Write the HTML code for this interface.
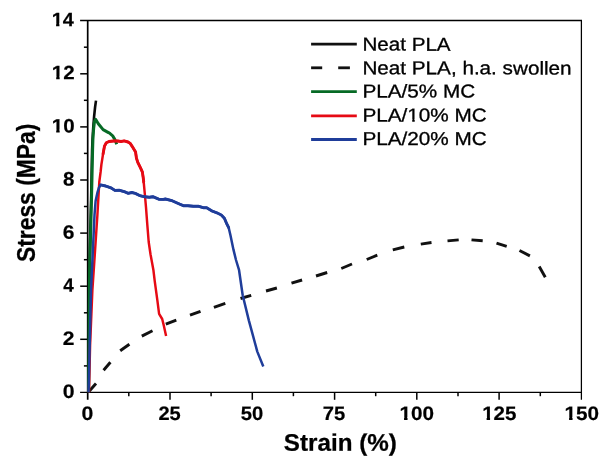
<!DOCTYPE html>
<html><head><meta charset="utf-8"><title>Stress-strain</title>
<style>html,body{margin:0;padding:0;background:#fff;}body{width:600px;height:461px;overflow:hidden;}svg{display:block;will-change:transform;position:absolute;left:0;top:0;font-family:"Liberation Sans",sans-serif;}.tk{font-weight:bold;fill:#000;stroke:#000;stroke-width:0.2px;}.ax{font-weight:bold;fill:#000;stroke:#000;stroke-width:0.25px;}.lg{fill:#000;stroke:#000;stroke-width:0.3px;}</style></head><body>
<svg width="600" height="461" viewBox="0 0 600 461">
<rect x="0" y="0" width="600" height="461" fill="#ffffff"/>
<g stroke="#000000" fill="none">
<line x1="87.7" y1="19.9" x2="87.7" y2="399.8" stroke-width="1.7"/>
<line x1="80.1" y1="392.4" x2="582.0" y2="392.4" stroke-width="1.4"/>
<line x1="80.1" y1="20.6" x2="582.0" y2="20.6" stroke-width="1.5"/>
<line x1="581.4" y1="20.6" x2="581.4" y2="399.8" stroke-width="1.25"/>
<line x1="83.9" y1="365.9" x2="87.7" y2="365.9" stroke-width="1.5"/>
<line x1="80.2" y1="339.3" x2="87.7" y2="339.3" stroke-width="1.5"/>
<line x1="83.9" y1="312.8" x2="87.7" y2="312.8" stroke-width="1.5"/>
<line x1="80.2" y1="286.2" x2="87.7" y2="286.2" stroke-width="1.5"/>
<line x1="83.9" y1="259.7" x2="87.7" y2="259.7" stroke-width="1.5"/>
<line x1="80.2" y1="233.1" x2="87.7" y2="233.1" stroke-width="1.5"/>
<line x1="83.9" y1="206.5" x2="87.7" y2="206.5" stroke-width="1.5"/>
<line x1="80.2" y1="180.0" x2="87.7" y2="180.0" stroke-width="1.5"/>
<line x1="83.9" y1="153.4" x2="87.7" y2="153.4" stroke-width="1.5"/>
<line x1="80.2" y1="126.9" x2="87.7" y2="126.9" stroke-width="1.5"/>
<line x1="83.9" y1="100.3" x2="87.7" y2="100.3" stroke-width="1.5"/>
<line x1="80.2" y1="73.8" x2="87.7" y2="73.8" stroke-width="1.5"/>
<line x1="83.9" y1="47.2" x2="87.7" y2="47.2" stroke-width="1.5"/>
<line x1="128.8" y1="392.4" x2="128.8" y2="396.2" stroke-width="1.5"/>
<line x1="170.0" y1="392.4" x2="170.0" y2="399.8" stroke-width="1.5"/>
<line x1="211.1" y1="392.4" x2="211.1" y2="396.2" stroke-width="1.5"/>
<line x1="252.3" y1="392.4" x2="252.3" y2="399.8" stroke-width="1.5"/>
<line x1="293.4" y1="392.4" x2="293.4" y2="396.2" stroke-width="1.5"/>
<line x1="334.6" y1="392.4" x2="334.6" y2="399.8" stroke-width="1.5"/>
<line x1="375.7" y1="392.4" x2="375.7" y2="396.2" stroke-width="1.5"/>
<line x1="416.8" y1="392.4" x2="416.8" y2="399.8" stroke-width="1.5"/>
<line x1="458.0" y1="392.4" x2="458.0" y2="396.2" stroke-width="1.5"/>
<line x1="499.1" y1="392.4" x2="499.1" y2="399.8" stroke-width="1.5"/>
<line x1="540.3" y1="392.4" x2="540.3" y2="396.2" stroke-width="1.5"/>
</g>
<path d="M88.5 392.3 L88.8 345.0 L89.2 290.0 L89.4 270.0 L91.1 200.0 L92.1 150.0 L92.5 140.0 L93.2 128.0 L94.1 116.5 L95.1 107.0 L96.0 100.6" fill="none" stroke="#0a0a0a" stroke-width="2.6" stroke-linejoin="round" stroke-linecap="butt"/>
<line x1="88.5" y1="392.0" x2="96.0" y2="383.5" stroke="#111111" stroke-width="2.9"/>
<line x1="103.6" y1="370.3" x2="110.4" y2="362.2" stroke="#111111" stroke-width="2.9"/>
<line x1="120.2" y1="350.8" x2="129.4" y2="344.3" stroke="#111111" stroke-width="2.9"/>
<line x1="141.8" y1="336.1" x2="152.5" y2="330.7" stroke="#111111" stroke-width="2.9"/>
<line x1="165.8" y1="324.2" x2="176.3" y2="320.2" stroke="#111111" stroke-width="2.9"/>
<line x1="190.0" y1="315.2" x2="200.5" y2="311.3" stroke="#111111" stroke-width="2.9"/>
<line x1="213.9" y1="307.3" x2="225.3" y2="303.3" stroke="#111111" stroke-width="2.9"/>
<line x1="240.5" y1="298.5" x2="251.2" y2="295.3" stroke="#111111" stroke-width="2.9"/>
<line x1="266.0" y1="291.0" x2="276.9" y2="288.0" stroke="#111111" stroke-width="2.9"/>
<line x1="291.5" y1="283.2" x2="302.1" y2="280.0" stroke="#111111" stroke-width="2.9"/>
<line x1="316.0" y1="276.0" x2="327.2" y2="272.5" stroke="#111111" stroke-width="2.9"/>
<line x1="341.3" y1="268.5" x2="352.0" y2="264.0" stroke="#111111" stroke-width="2.9"/>
<line x1="366.7" y1="259.5" x2="377.3" y2="255.2" stroke="#111111" stroke-width="2.9"/>
<line x1="392.8" y1="249.9" x2="404.3" y2="247.0" stroke="#111111" stroke-width="2.9"/>
<line x1="420.8" y1="244.1" x2="431.5" y2="242.5" stroke="#111111" stroke-width="2.9"/>
<line x1="447.5" y1="240.9" x2="458.7" y2="239.9" stroke="#111111" stroke-width="2.9"/>
<line x1="471.5" y1="239.9" x2="482.7" y2="240.7" stroke="#111111" stroke-width="2.9"/>
<line x1="496.5" y1="243.1" x2="506.7" y2="246.3" stroke="#111111" stroke-width="2.9"/>
<line x1="519.5" y1="250.5" x2="529.9" y2="255.9" stroke="#111111" stroke-width="2.9"/>
<line x1="539.2" y1="266.5" x2="545.3" y2="277.2" stroke="#111111" stroke-width="2.9"/>
<path d="M88.6 392.3 L89.0 345.0 L89.4 290.0 L89.6 270.0 L89.9 260.0 L91.5 200.0 L92.6 150.0 L92.9 140.0 L93.7 128.0 L94.5 121.5 L95.6 119.3 L98.3 123.7 L103.1 129.6 L108.5 132.6 L110.1 133.6 L112.7 135.8 L113.6 137.4 L114.9 139.5 L116.7 144.3" fill="none" stroke="#066a25" stroke-width="3.0" stroke-linejoin="round" stroke-linecap="butt"/>
<path d="M89.0 392.3 L90.1 345.0 L92.4 290.0 L94.3 262.0 L97.4 215.0 L99.3 182.0 L100.6 172.0 L101.4 164.5 L103.1 153.7 L104.5 146.1 L106.3 142.8 L109.0 141.5 L113.4 141.0 L117.7 141.0 L121.0 141.5 L124.2 140.9 L128.0 142.0 L130.2 143.4 L132.3 146.6 L135.6 152.1 L136.4 158.0 L137.8 162.4 L140.5 167.8 L142.4 172.1 L143.2 177.6 L143.7 182.0 L145.0 196.0 L146.0 207.3 L147.3 224.7 L148.7 242.0 L150.5 254.2 L153.4 270.0 L154.7 280.8 L157.3 299.9 L159.1 313.8 L162.2 319.0 L163.9 325.9 L166.1 336.0" fill="none" stroke="#e60a14" stroke-width="2.45" stroke-linejoin="round" stroke-linecap="butt"/>
<path d="M103.1 153.7 L104.5 146.1 L106.3 142.8 L109.0 141.5 L113.4 141.0 L117.7 141.0 L121.0 141.5 L124.2 140.9 L128.0 142.0 L130.2 143.4 L132.3 146.6 L135.6 152.1 L136.4 158.0 L137.8 162.4 L140.5 167.8 L142.4 172.1 L143.2 177.6 L143.7 182.0" fill="none" stroke="#e60a14" stroke-width="2.9" stroke-linejoin="round" stroke-linecap="round"/>
<path d="M88.6 392.3 L89.7 345.0 L91.0 290.0 L92.2 265.0 L94.5 215.0 L95.6 201.0 L97.5 192.3 L98.8 188.0 L100.6 184.9 L105.6 186.0 L110.8 187.8 L114.9 190.4 L119.0 190.2 L124.3 191.7 L128.3 193.3 L131.8 192.5 L135.3 193.4 L140.0 195.7 L144.7 196.8 L149.3 197.2 L152.8 196.7 L158.7 199.2 L163.3 199.4 L165.3 199.0 L172.0 200.7 L178.7 203.7 L183.3 205.7 L188.0 205.7 L193.3 206.3 L198.7 206.3 L203.3 207.7 L206.7 207.7 L212.0 211.0 L217.3 213.0 L221.3 215.0 L224.4 218.3 L226.7 223.7 L228.7 227.7 L230.4 235.0 L233.4 249.4 L236.0 260.0 L239.0 269.8 L242.7 295.2 L248.9 320.6 L257.3 351.6 L263.3 366.5" fill="none" stroke="#1f3d9a" stroke-width="2.5" stroke-linejoin="round" stroke-linecap="butt"/>
<path d="M100.6 184.9 L105.6 186.0 L110.8 187.8 L114.9 190.4 L119.0 190.2 L124.3 191.7 L128.3 193.3 L131.8 192.5 L135.3 193.4 L140.0 195.7 L144.7 196.8 L149.3 197.2 L152.8 196.7 L158.7 199.2 L163.3 199.4 L165.3 199.0 L172.0 200.7 L178.7 203.7 L183.3 205.7 L188.0 205.7 L193.3 206.3 L198.7 206.3 L203.3 207.7 L206.7 207.7 L212.0 211.0 L217.3 213.0 L221.3 215.0 L224.4 218.3 L226.7 223.7 L228.7 227.7" fill="none" stroke="#1f3d9a" stroke-width="2.9" stroke-linejoin="round" stroke-linecap="round"/>
<text class="tk" font-size="19.40" transform="translate(62.75,398.05) rotate(0.03) scale(1.0960,1.0000)">0</text>
<text class="tk" font-size="19.40" transform="translate(62.86,344.94) rotate(0.03) scale(1.0846,1.0000)">2</text>
<text class="tk" font-size="19.40" transform="translate(63.32,291.82) rotate(0.03) scale(0.9731,1.0000)">4</text>
<text class="tk" font-size="19.40" transform="translate(62.82,238.71) rotate(0.03) scale(1.0790,1.0000)">6</text>
<text class="tk" font-size="19.40" transform="translate(62.93,185.59) rotate(0.03) scale(1.0571,1.0000)">8</text>
<text class="tk" font-size="19.40" transform="translate(51.72,132.48) rotate(0.03) scale(1.0591,1.0000)">10</text>
<g transform="translate(51.72,132.48) scale(1.0591,1.0000)" fill="#ffffff"><rect x="-0.18" y="-2.98" width="4.41" height="4.48"/><rect x="7.49" y="-2.98" width="3.61" height="4.48"/></g>
<text class="tk" font-size="19.40" transform="translate(51.72,79.36) rotate(0.03) scale(1.0591,1.0000)">12</text>
<g transform="translate(51.72,79.36) scale(1.0591,1.0000)" fill="#ffffff"><rect x="-0.18" y="-2.98" width="4.41" height="4.48"/><rect x="7.49" y="-2.98" width="3.61" height="4.48"/></g>
<text class="tk" font-size="19.40" transform="translate(51.76,26.25) rotate(0.03) scale(1.0235,1.0000)">14</text>
<g transform="translate(51.76,26.25) scale(1.0235,1.0000)" fill="#ffffff"><rect x="-0.18" y="-2.98" width="4.41" height="4.48"/><rect x="7.49" y="-2.98" width="3.61" height="4.48"/></g>
<text class="tk" font-size="19.40" transform="translate(81.60,419.90) rotate(0.03) scale(1.0960,1.0000)">0</text>
<text class="tk" font-size="19.40" transform="translate(158.38,419.90) rotate(0.03) scale(1.0334,1.0000)">25</text>
<text class="tk" font-size="19.40" transform="translate(240.71,419.90) rotate(0.03) scale(1.0433,1.0000)">50</text>
<text class="tk" font-size="19.40" transform="translate(322.79,419.90) rotate(0.03) scale(1.0408,1.0000)">75</text>
<text class="tk" font-size="19.40" transform="translate(399.54,419.90) rotate(0.03) scale(1.0672,1.0000)">100</text>
<g transform="translate(399.54,419.90) scale(1.0672,1.0000)" fill="#ffffff"><rect x="-0.18" y="-2.98" width="4.41" height="4.48"/><rect x="7.49" y="-2.98" width="3.61" height="4.48"/></g>
<text class="tk" font-size="19.40" transform="translate(482.13,419.90) rotate(0.03) scale(1.0587,1.0000)">125</text>
<g transform="translate(482.13,419.90) scale(1.0587,1.0000)" fill="#ffffff"><rect x="-0.18" y="-2.98" width="4.41" height="4.48"/><rect x="7.49" y="-2.98" width="3.61" height="4.48"/></g>
<text class="tk" font-size="19.40" transform="translate(564.56,419.90) rotate(0.03) scale(1.0672,1.0000)">150</text>
<g transform="translate(564.56,419.90) scale(1.0672,1.0000)" fill="#ffffff"><rect x="-0.18" y="-2.98" width="4.41" height="4.48"/><rect x="7.49" y="-2.98" width="3.61" height="4.48"/></g>
<text class="ax" font-size="24.00" transform="translate(283.87,450.80) rotate(0.03) scale(1.0091,1.0000)">Strain (%)</text>
<text class="ax" font-size="22.80" transform="translate(34.90,261.99) rotate(-90) scale(1.0016,1.1300)">Stress (MPa)</text>
<line x1="311.1" y1="44.1" x2="356.8" y2="44.1" stroke="#111111" stroke-width="2.8"/>
<text class="lg" font-size="18.60" transform="translate(362.40,50.60) rotate(0.03) scale(1.1086,1.0000)">Neat PLA</text>
<line x1="311.1" y1="67.8" x2="322.2" y2="67.8" stroke="#111111" stroke-width="2.8"/>
<line x1="338.2" y1="67.8" x2="349.9" y2="67.8" stroke="#111111" stroke-width="2.8"/>
<text class="lg" font-size="18.60" transform="translate(362.39,74.30) rotate(0.03) scale(1.1128,1.0000)">Neat PLA, h.a. swollen</text>
<line x1="311.1" y1="91.7" x2="356.8" y2="91.7" stroke="#066a25" stroke-width="2.8"/>
<text class="lg" font-size="18.60" transform="translate(362.39,97.50) rotate(0.03) scale(1.1146,1.0000)">PLA/5% MC</text>
<line x1="311.1" y1="115.8" x2="356.8" y2="115.8" stroke="#e60a14" stroke-width="2.8"/>
<text class="lg" font-size="18.60" transform="translate(362.39,121.40) rotate(0.03) scale(1.1146,1.0000)">PLA/10% MC</text>
<g transform="translate(362.39,121.40) scale(1.1146,1.0000)" fill="#ffffff"><rect x="40.34" y="-2.39" width="4.36" height="3.89"/><rect x="46.95" y="-2.39" width="3.67" height="3.89"/></g>
<line x1="311.1" y1="139.5" x2="356.8" y2="139.5" stroke="#1f3d9a" stroke-width="2.8"/>
<text class="lg" font-size="18.60" transform="translate(362.39,145.00) rotate(0.03) scale(1.1146,1.0000)">PLA/20% MC</text>
</svg></body></html>
